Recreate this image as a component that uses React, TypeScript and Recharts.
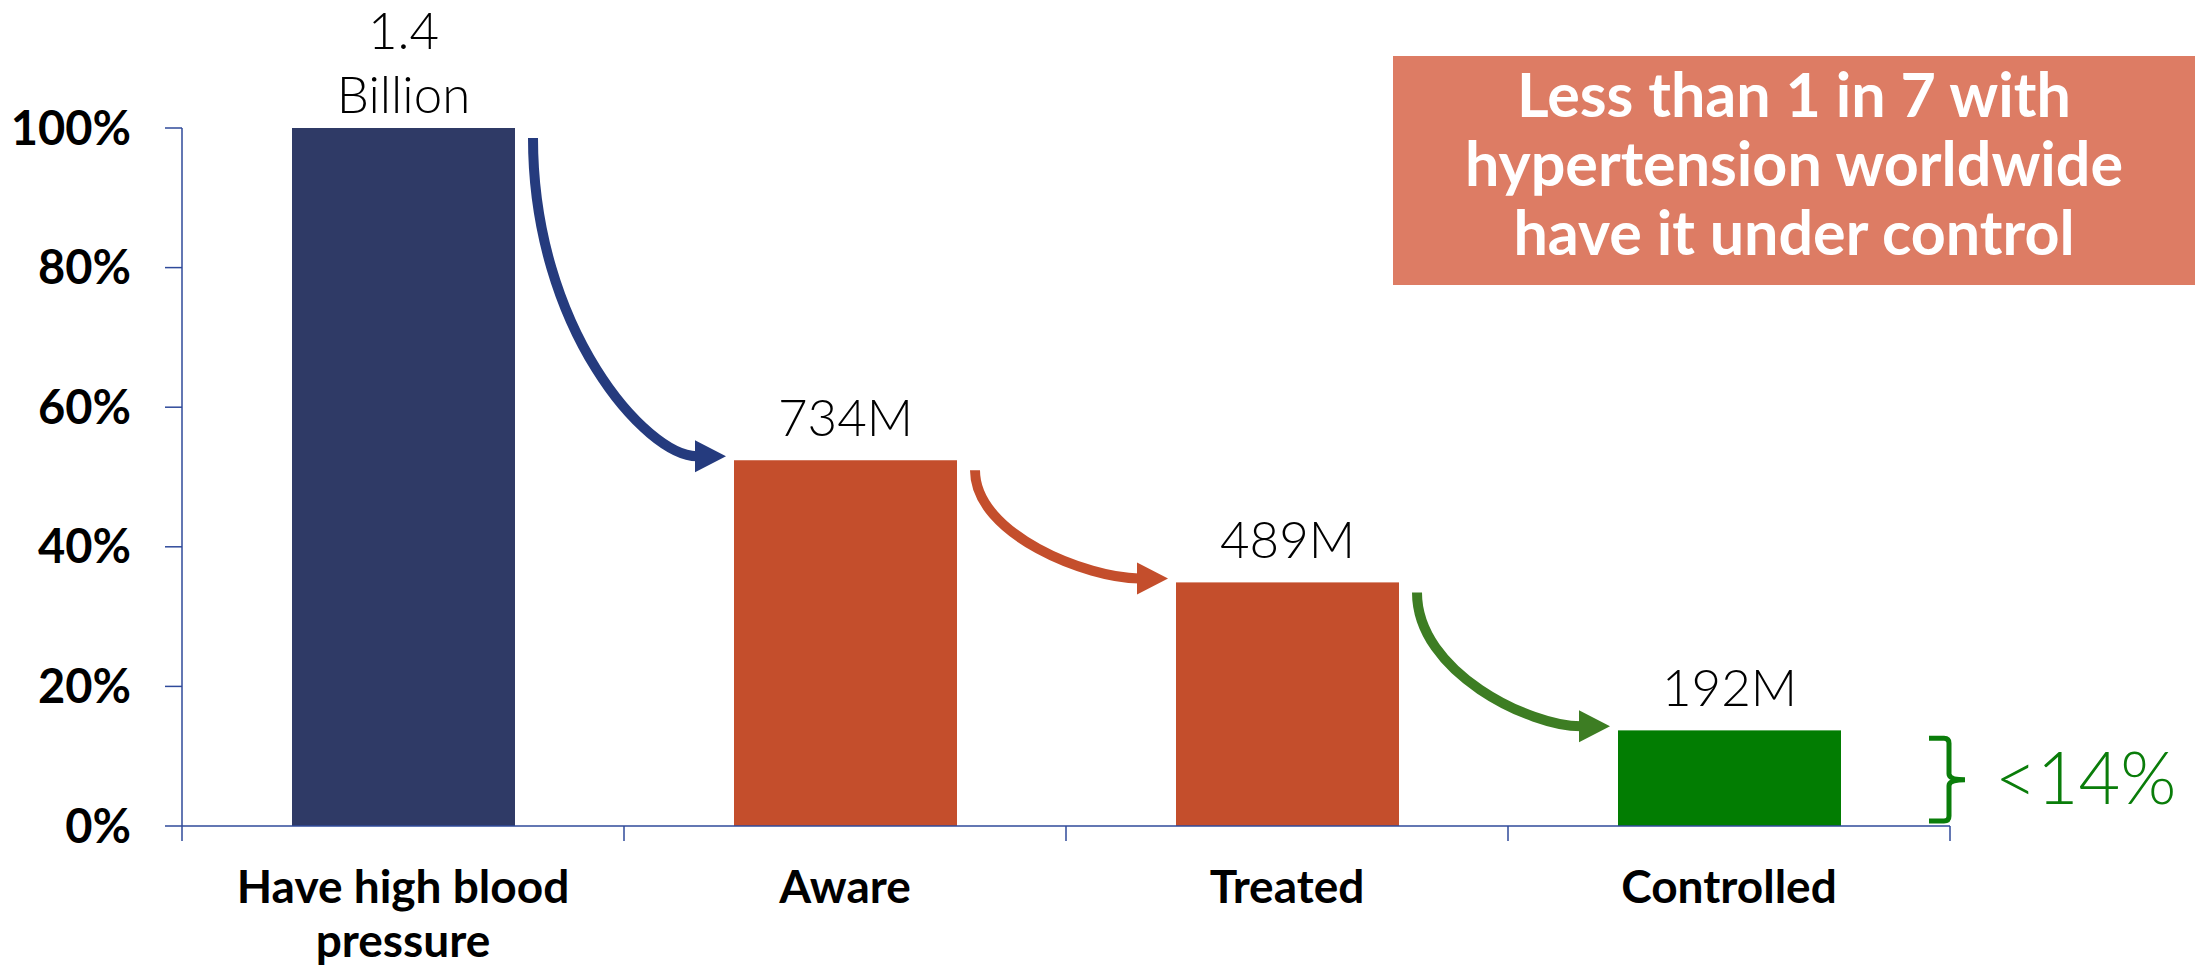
import React from 'react';
import { BarChart, Bar, XAxis, YAxis, LabelList } from 'recharts';

const categories = ['Have high blood\npressure', 'Aware', 'Treated', 'Controlled'];
const shares = [100, 52.4, 34.9, 13.7];
const counts = ['1.4\nBillion', '734M', '489M', '192M'];
const barColors = ['#2F3A66', '#C44E2C', '#C44E2C', '#027D02'];
const arrowColors = ['#253B7E', '#C44E2C', '#3D7D23'];
const yTicks = [0, 20, 40, 60, 80, 100];
const calloutLines = ['Less than 1 in 7 with', 'hypertension worldwide', 'have it under control'];
const controlledNote = '<14%';

const data = categories.map((name, i) => ({ name, share: shares[i], label: counts[i] }));

const W = 2195;
const H = 969;
const MARGIN = { top: 128, right: 245, bottom: 0, left: 0 };
const Y_AXIS_W = 182;
const BAND = (W - MARGIN.left - MARGIN.right - Y_AXIS_W) / categories.length;
const AXIS_BLUE = '#2F4A9A';
const NOTE_GREEN = '#0A7D0A';

// bar + the curved arrow that leads to the next bar (and the brace on the last one)
function BarShape(props: any) {
  const { x, y, width, height, index } = props;
  const base = y + height;
  const perUnit = height / shares[index];
  const parts: React.ReactNode[] = [
    <rect key="bar" x={x} y={y} width={width} height={height} fill={barColors[index]} />,
  ];

  if (index < shares.length - 1) {
    const nextTop = base - shares[index + 1] * perUnit;
    const sx = x + width + 18;
    const sy = y + 10;
    const tx = x + BAND - 8;
    const ty = nextTop - 4;
    const hx = tx - 31;
    const dx = hx - sx;
    const dy = ty - sy;
    const d = `M${sx},${sy} C${sx},${sy + 0.6 * dy} ${sx + 0.7 * dx},${ty} ${hx + 2},${ty}`;
    parts.push(
      <path key="arc" d={d} stroke={arrowColors[index]} strokeWidth={10} fill="none" />,
      <polygon
        key="head"
        points={`${tx},${ty} ${hx},${ty - 16} ${hx},${ty + 16}`}
        fill={arrowColors[index]}
      />
    );
  } else {
    const right = x + width;
    const x0 = right + 88;
    const x1 = right + 108;
    const x2 = right + 124;
    const top = y + 8;
    const bot = base - 5;
    const mid = (top + bot) / 2;
    const d =
      `M${x0},${top} L${x1 - 5},${top} Q${x1},${top} ${x1},${top + 5} ` +
      `L${x1},${mid - 6} Q${x1},${mid} ${x2},${mid} Q${x1},${mid} ${x1},${mid + 6} ` +
      `L${x1},${bot - 5} Q${x1},${bot} ${x1 - 5},${bot} L${x0},${bot}`;
    parts.push(
      <path key="brace" d={d} stroke={NOTE_GREEN} strokeWidth={5} fill="none" />,
      <text
        key="note"
        x={x2 + 30}
        y={mid + 24}
        fontFamily="Lato"
        fontWeight={300}
        fontSize={72}
        fill={NOTE_GREEN}
      >
        {controlledNote}
      </text>
    );
  }
  return <g>{parts}</g>;
}

function CountLabel(props: any) {
  const { x, y, width, value } = props;
  const lines = String(value).split('\n');
  const cx = x + width / 2;
  const lastBase = y - (lines.length > 1 ? 15 : 24);
  return (
    <text textAnchor="middle" fontFamily="Lato" fontWeight={300} fontSize={51} fill="#000">
      {lines.map((l, i) => (
        <tspan key={i} x={cx} y={lastBase - (lines.length - 1 - i) * 64}>
          {l}
        </tspan>
      ))}
    </text>
  );
}

function CategoryTick(props: any) {
  const { x, y, payload, index } = props;
  const lines = String(payload.value).split('\n');
  return (
    <g>
      <line x1={x - BAND / 2} x2={x - BAND / 2} y1={y} y2={y + 15} stroke={AXIS_BLUE} strokeWidth={1.5} />
      {index === categories.length - 1 && (
        <line x1={x + BAND / 2} x2={x + BAND / 2} y1={y} y2={y + 15} stroke={AXIS_BLUE} strokeWidth={1.5} />
      )}
      <text textAnchor="middle" fontFamily="Lato" fontWeight={700} fontSize={46} fill="#000">
        {lines.map((l, i) => (
          <tspan key={i} x={x} y={y + 77 + i * 54}>
            {l}
          </tspan>
        ))}
      </text>
    </g>
  );
}

export default function App() {
  return (
    <div style={{ position: 'absolute', left: 0, top: 0, width: W, height: H, background: '#fff' }}>
      <BarChart width={W} height={H} data={data} margin={MARGIN}>
        <XAxis
          dataKey="name"
          interval={0}
          height={143}
          tickLine={false}
          tickSize={0}
          tickMargin={0}
          axisLine={{ stroke: AXIS_BLUE, strokeWidth: 1.5 }}
          tick={<CategoryTick />}
        />
        <YAxis
          domain={[0, 100]}
          ticks={yTicks}
          width={Y_AXIS_W}
          tickFormatter={(v) => `${v}%`}
          tickSize={17}
          tickMargin={34}
          axisLine={{ stroke: AXIS_BLUE, strokeWidth: 1.5 }}
          tickLine={{ stroke: AXIS_BLUE, strokeWidth: 1.5 }}
          tick={{ fill: '#000', fontSize: 47, fontFamily: 'Lato', fontWeight: 700 }}
        />
        <Bar dataKey="share" barSize={223} shape={<BarShape />} isAnimationActive={false}>
          <LabelList dataKey="label" content={<CountLabel />} />
        </Bar>
      </BarChart>
      <div
        style={{
          position: 'absolute',
          left: 1393,
          top: 56,
          width: W - 1393,
          height: 229,
          boxSizing: 'border-box',
          paddingTop: 3,
          background: '#DD7C64',
          color: '#fff',
          fontFamily: 'Lato',
          fontWeight: 700,
          fontSize: 61,
          lineHeight: '69px',
          textAlign: 'center',
        }}
      >
        {calloutLines.map((l) => (
          <div key={l}>{l}</div>
        ))}
      </div>
    </div>
  );
}
